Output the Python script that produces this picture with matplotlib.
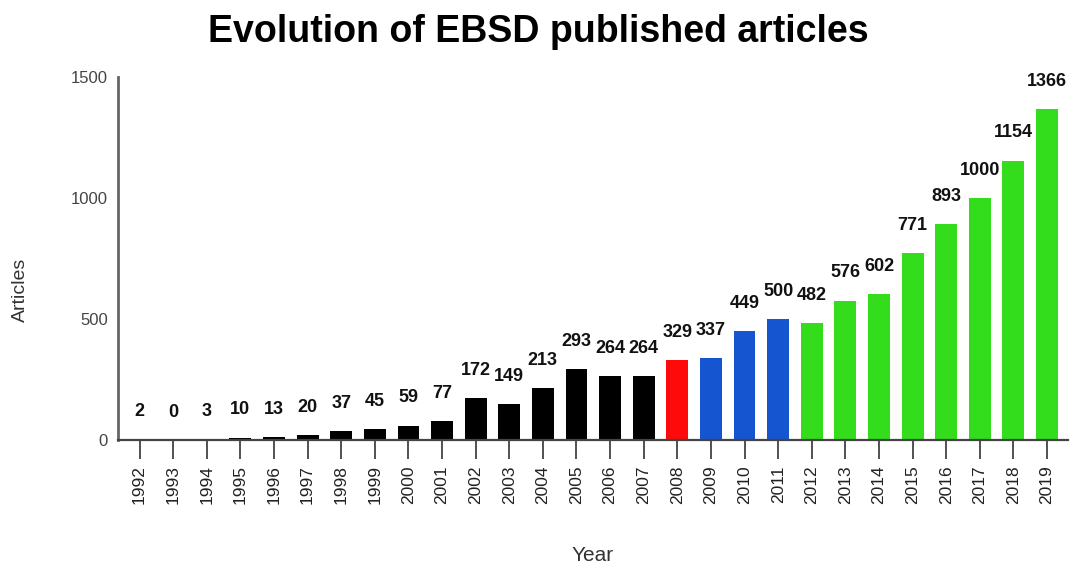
import matplotlib
matplotlib.use("Agg")
import matplotlib.pyplot as plt
import numpy as np

plt.rcParams['font.family'] = ['Liberation Sans', 'DejaVu Sans']

years = [str(y) for y in range(1992, 2020)]
articles = [2, 0, 3, 10, 13, 20, 37, 45, 59, 77, 172, 149, 213, 293, 264, 264,
            329, 337, 449, 500, 482, 576, 602, 771, 893, 1000, 1154, 1366]
# colour groups: black up to 2007, red 2008, blue 2009-2011, green from 2012
colors = (['#000000'] * 16 + ['#ff0a0a'] + ['#1555d0'] * 3 + ['#33dd1c'] * 8)

fig = plt.figure(figsize=(10.7, 5.66), dpi=100)
ax = fig.add_axes([0.110, 0.2226, 0.888, 0.6414])

x = np.arange(len(years))
ax.bar(x, articles, width=0.65, color=colors)

for xi, v in zip(x, articles):
    ax.annotate(str(v), (xi, v), xytext=(0, 20), textcoords='offset points',
                ha='center', va='center', fontsize=13, fontweight='bold',
                color='#111111')

ax.set_xlim(-0.65, 27.62)
ax.set_ylim(0, 1500)
ax.set_yticks([0, 500, 1000, 1500])
ax.set_xticks(x)
ax.set_xticklabels(years, rotation=90, fontsize=12.5, color='#222222')
ax.tick_params(axis='x', length=14, width=1.2, color='#333333', pad=4)
ax.tick_params(axis='y', length=0, pad=7, labelsize=12, labelcolor='#444444')

for s in ['top', 'right']:
    ax.spines[s].set_visible(False)
ax.spines['left'].set_color('#666666')
ax.spines['bottom'].set_color('#444444')
ax.spines['left'].set_linewidth(2)
ax.spines['bottom'].set_linewidth(1.6)

ax.set_ylabel('Articles', fontsize=14, color='#333333')
ax.yaxis.set_label_coords(-0.093, 0.413)
ax.set_xlabel('Year', fontsize=15, color='#333333', labelpad=30)
fig.suptitle('Evolution of EBSD published articles', fontsize=27,
             fontweight='bold', y=0.975, x=0.503)

fig.savefig('out.png', dpi=100)
